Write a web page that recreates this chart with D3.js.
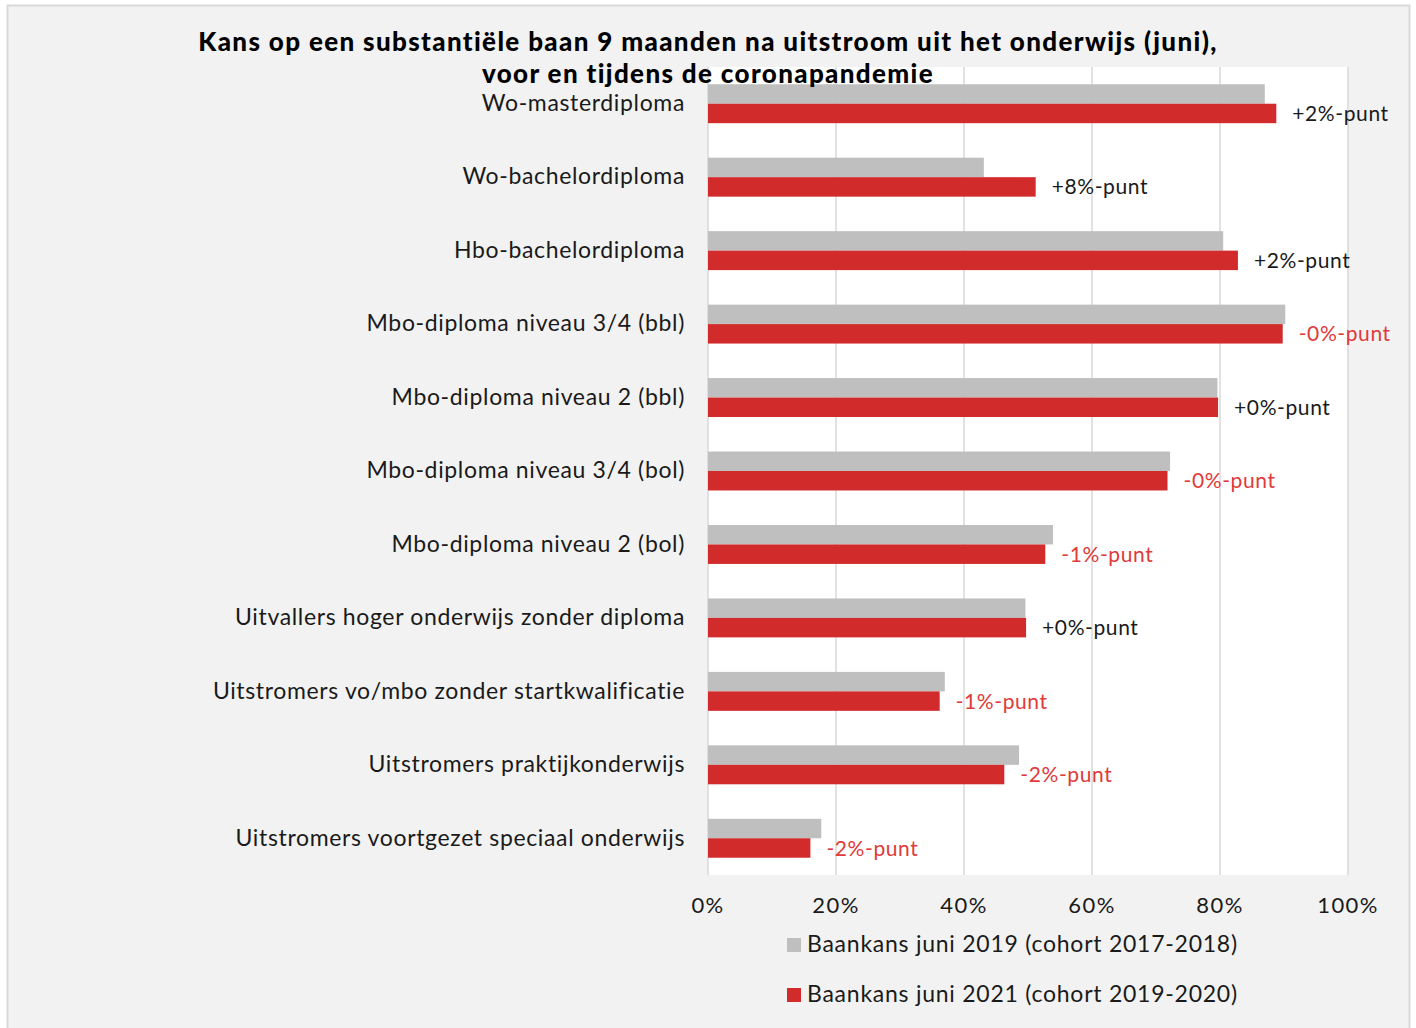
<!DOCTYPE html>
<html lang="nl">
  <head>
    <meta charset="utf-8" />
    <title>Kans op een substantiële baan</title>
    <script src="https://cdnjs.cloudflare.com/ajax/libs/d3/7.8.5/d3.min.js"></script>
    <style>
      body {
        margin: 0;
        background: #ffffff;
        font-family: "Lato", "Noto Sans", sans-serif;
      }
      .grid line {
        stroke: #d9d9d9;
        stroke-width: 1.5px;
      }
      .cat {
        font-size: 23px;
        letter-spacing: 0.65px;
        fill: #1a1a1a;
      }
      .tick-label {
        font-size: 22px;
        letter-spacing: 1.4px;
        fill: #1a1a1a;
      }
      .delta {
        font-size: 21px;
        letter-spacing: 0.6px;
      }
      .legend text {
        font-size: 23px;
        letter-spacing: 0.75px;
        fill: #1a1a1a;
      }
      .title {
        font-size: 26px;
        font-weight: 900;
        letter-spacing: 1.35px;
        fill: #000;
      }
    </style>
  </head>
  <body>
    <div id="chart"></div>
    <script>
      // data
      const categories = [
        "Wo-masterdiploma",
        "Wo-bachelordiploma",
        "Hbo-bachelordiploma",
        "Mbo-diploma niveau 3/4 (bbl)",
        "Mbo-diploma niveau 2 (bbl)",
        "Mbo-diploma niveau 3/4 (bol)",
        "Mbo-diploma niveau 2 (bol)",
        "Uitvallers hoger onderwijs zonder diploma",
        "Uitstromers vo/mbo zonder startkwalificatie",
        "Uitstromers praktijkonderwijs",
        "Uitstromers voortgezet speciaal onderwijs",
      ];
      const kans2019 = [87.0, 43.1, 80.5, 90.2, 79.6, 72.2, 53.9, 49.6, 37.0, 48.6, 17.7];
      const kans2021 = [88.8, 51.2, 82.8, 89.8, 79.7, 71.8, 52.7, 49.7, 36.2, 46.3, 16.0];
      const deltaLabels = [
        "+2%-punt", "+8%-punt", "+2%-punt", "-0%-punt", "+0%-punt", "-0%-punt",
        "-1%-punt", "+0%-punt", "-1%-punt", "-2%-punt", "-2%-punt",
      ];
      const seriesNames = [
        "Baankans juni 2019 (cohort 2017-2018)",
        "Baankans juni 2021 (cohort 2019-2020)",
      ];
      const xTicks = [0, 20, 40, 60, 80, 100];

      const W = 1416, H = 1028;
      const colors = ["#bfbfbf", "#d12b2b"];
      const negColor = "#e03a3a";

      const svg = d3
        .select("#chart")
        .append("svg")
        .attr("width", W)
        .attr("height", H);

      // chart background + border
      svg.append("rect")
        .attr("x", 7.5).attr("y", 5.5)
        .attr("width", 1402).attr("height", 1040)
        .attr("fill", "#f2f2f2")
        .attr("stroke", "#d9d9d9")
        .attr("stroke-width", 2);

      const plot = { left: 708, right: 1348, top: 67, bottom: 875 };

      const x = d3.scaleLinear().domain([0, 100]).range([plot.left, plot.right]);
      const y = d3
        .scaleBand()
        .domain(categories)
        .range([plot.top, plot.bottom])
        .paddingInner(0.47)
        .paddingOuter(0.235);
      const ySub = d3.scaleBand().domain([0, 1]).range([0, y.bandwidth()]);

      // white plot area
      svg.append("rect")
        .attr("x", plot.left).attr("y", plot.top)
        .attr("width", plot.right - plot.left)
        .attr("height", plot.bottom - plot.top)
        .attr("fill", "#ffffff");

      // gridlines
      svg.append("g")
        .attr("class", "grid")
        .selectAll("line")
        .data(xTicks)
        .join("line")
        .attr("x1", (d) => x(d)).attr("x2", (d) => x(d))
        .attr("y1", plot.top).attr("y2", plot.bottom);

      // x tick labels
      svg.append("g")
        .selectAll("text")
        .data(xTicks)
        .join("text")
        .attr("class", "tick-label")
        .attr("x", (d) => x(d))
        .attr("y", 913)
        .attr("text-anchor", "middle")
        .text((d) => d + "%");

      // bars
      const series = [kans2019, kans2021];
      series.forEach((vals, s) => {
        svg.append("g")
          .selectAll("rect")
          .data(vals)
          .join("rect")
          .attr("x", x(0))
          .attr("y", (d, i) => y(categories[i]) + ySub(s))
          .attr("width", (d) => x(d) - x(0))
          .attr("height", ySub.bandwidth())
          .attr("fill", colors[s]);
      });

      // delta labels next to red bars
      svg.append("g")
        .selectAll("text")
        .data(kans2021)
        .join("text")
        .attr("class", "delta")
        .attr("x", (d) => x(d) + 16)
        .attr("y", (d, i) => y(categories[i]) + ySub(1) + ySub.bandwidth() / 2)
        .attr("dy", "0.36em")
        .attr("fill", (d, i) => (deltaLabels[i][0] === "-" ? negColor : "#1a1a1a"))
        .text((d, i) => deltaLabels[i]);

      // category labels
      svg.append("g")
        .selectAll("text")
        .data(categories)
        .join("text")
        .attr("class", "cat")
        .attr("x", 685)
        .attr("y", (d) => y(d) + y.bandwidth() / 2 - 1)
        .attr("dy", "0.36em")
        .attr("text-anchor", "end")
        .text((d) => d);

      // title
      const title = svg.append("text")
        .attr("class", "title")
        .attr("text-anchor", "middle");
      title.append("tspan").attr("x", 708).attr("y", 51)
        .text("Kans op een substantiële baan 9 maanden na uitstroom uit het onderwijs (juni),");
      title.append("tspan").attr("x", 708).attr("y", 83)
        .text("voor en tijdens de coronapandemie");

      // legend
      const legend = svg.append("g")
        .attr("class", "legend")
        .selectAll("g")
        .data(seriesNames)
        .join("g")
        .attr("transform", (d, i) => `translate(787, ${938 + i * 50})`);
      legend.append("rect")
        .attr("width", 14).attr("height", 14)
        .attr("fill", (d, i) => colors[i]);
      legend.append("text")
        .attr("x", 20).attr("y", 14)
        .text((d) => d);
    </script>
  </body>
</html>
